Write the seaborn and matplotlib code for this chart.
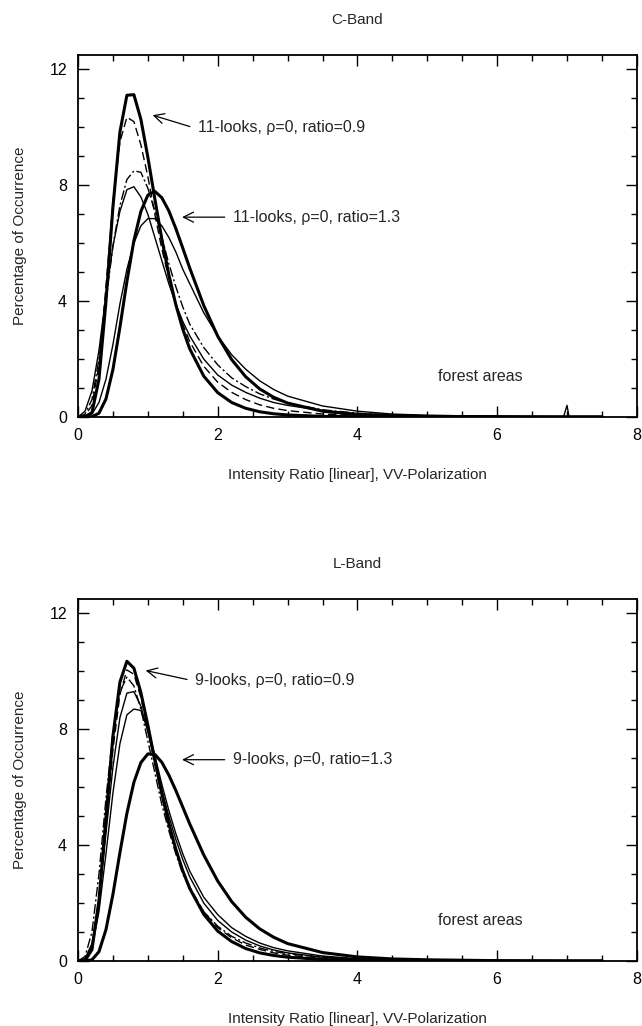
import matplotlib
matplotlib.use("Agg")
import matplotlib.pyplot as plt
from matplotlib.ticker import MultipleLocator
import pandas as pd
import seaborn as sns

# intensity ratio grid shared by all curves
ratio = [0, 0.1, 0.2, 0.3, 0.4, 0.5, 0.6, 0.7, 0.8, 0.9, 1.0, 1.1, 1.2, 1.3, 1.4, 1.5,
         1.6, 1.8, 2.0, 2.2, 2.4, 2.6, 2.8, 3.0, 3.5, 4.0, 4.5, 5.0, 6.0, 6.95, 7.0, 7.03, 7.5]

# C-Band (11 looks)
c_theory_09 = [0, 0.01, 0.15, 1.30, 3.98, 7.25, 9.84, 11.11, 11.13, 10.28, 8.97, 7.53, 6.14, 4.92, 3.88, 3.03,
               2.35, 1.41, 0.84, 0.50, 0.30, 0.18, 0.11, 0.07, 0.02, 0.01, 0, 0, 0, 0, 0, 0, 0]
c_theory_13 = [0, 0, 0.01, 0.13, 0.62, 1.64, 3.10, 4.68, 6.09, 7.10, 7.66, 7.79, 7.57, 7.12, 6.51, 5.83,
               5.14, 3.85, 2.79, 1.98, 1.39, 0.97, 0.68, 0.48, 0.20, 0.08, 0.04, 0.02, 0.01, 0, 0, 0, 0]
c_meas_a = [0, 0.05, 0.4, 1.8, 4.5, 7.4, 9.5, 10.35, 10.2, 9.4, 8.3, 7.0, 5.8, 4.8, 3.9, 3.2,
            2.6, 1.75, 1.2, 0.85, 0.6, 0.42, 0.3, 0.22, 0.1, 0.05, 0.03, 0.02, 0.01, 0, 0, 0, 0]
c_meas_b = [0, 0.1, 0.6, 2.0, 4.0, 5.9, 7.3, 8.2, 8.5, 8.45, 7.9, 7.1, 6.2, 5.3, 4.5, 3.8,
            3.2, 2.4, 1.8, 1.35, 1.05, 0.8, 0.62, 0.48, 0.25, 0.13, 0.07, 0.04, 0.01, 0, 0, 0, 0]
c_meas_c = [0, 0.2, 0.9, 2.3, 4.2, 5.9, 7.1, 7.85, 7.95, 7.6, 7.0, 6.2, 5.4, 4.6, 3.9, 3.3,
            2.8, 2.0, 1.45, 1.1, 0.85, 0.65, 0.5, 0.4, 0.22, 0.12, 0.07, 0.04, 0.01, 0, 0, 0, 0]
c_meas_d = [0, 0, 0.1, 0.5, 1.3, 2.5, 3.9, 5.1, 6.0, 6.6, 6.85, 6.85, 6.6, 6.2, 5.7, 5.1,
            4.6, 3.6, 2.8, 2.15, 1.65, 1.25, 0.95, 0.72, 0.38, 0.2, 0.1, 0.06, 0.02, 0, 0.4, 0, 0]

# L-Band (9 looks)
l_theory_09 = [0, 0.01, 0.39, 2.09, 4.94, 7.76, 9.63, 10.35, 10.11, 9.27, 8.14, 6.93, 5.78, 4.74, 3.86, 3.11,
               2.50, 1.61, 1.03, 0.67, 0.43, 0.28, 0.19, 0.13, 0.05, 0.02, 0.01, 0, 0, 0, 0, 0, 0]
l_theory_13 = [0, 0, 0.04, 0.32, 1.08, 2.30, 3.74, 5.10, 6.17, 6.85, 7.15, 7.13, 6.86, 6.42, 5.89, 5.31,
               4.73, 3.66, 2.76, 2.05, 1.51, 1.11, 0.82, 0.60, 0.29, 0.14, 0.07, 0.04, 0.01, 0, 0, 0, 0]
l_meas_a = [0, 0.05, 0.5, 2.0, 4.6, 7.3, 9.2, 10.05, 9.9, 9.1, 8.0, 6.8, 5.7, 4.7, 3.85, 3.15,
            2.55, 1.7, 1.15, 0.8, 0.55, 0.4, 0.28, 0.2, 0.09, 0.04, 0.02, 0.01, 0, 0, 0, 0, 0]
l_meas_b = [0, 0.15, 1.0, 3.0, 5.6, 7.9, 9.3, 9.8, 9.5, 8.7, 7.6, 6.5, 5.4, 4.5, 3.7, 3.0,
            2.5, 1.7, 1.2, 0.85, 0.62, 0.45, 0.33, 0.25, 0.12, 0.06, 0.03, 0.02, 0.01, 0, 0, 0, 0]
l_meas_c = [0, 0.08, 0.6, 2.1, 4.4, 6.7, 8.4, 9.25, 9.3, 8.8, 7.9, 6.9, 5.9, 5.0, 4.2, 3.5,
            2.9, 2.0, 1.4, 1.0, 0.72, 0.52, 0.38, 0.28, 0.13, 0.06, 0.03, 0.02, 0.01, 0, 0, 0, 0]
l_meas_d = [0, 0.05, 0.45, 1.7, 3.7, 5.8, 7.5, 8.5, 8.7, 8.65, 8.0, 7.1, 6.1, 5.2, 4.4, 3.7,
            3.1, 2.2, 1.6, 1.15, 0.85, 0.62, 0.46, 0.35, 0.17, 0.08, 0.04, 0.02, 0.01, 0, 0, 0, 0]

# line styles: (linewidth, dash pattern or None for solid)
styles = {
    "theory 0.9": (2.2, None),
    "theory 1.3": (2.2, None),
    "meas a": (1.0, (6, 3)),
    "meas b": (1.0, (7, 2, 1.5, 2)),
    "meas c": (1.0, None),
    "meas d": (1.0, None),
}

panels = [
    {
        "title": "C-Band",
        "looks": 11,
        "curves": {"theory 0.9": c_theory_09, "theory 1.3": c_theory_13, "meas a": c_meas_a,
                   "meas b": c_meas_b, "meas c": c_meas_c, "meas d": c_meas_d},
        # (text xy, arrow tip) in data units
        "notes": [((1.72, 10.0), (1.03, 10.45), "0.9"), ((2.22, 6.9), (1.45, 6.9), "1.3")],
    },
    {
        "title": "L-Band",
        "looks": 9,
        "curves": {"theory 0.9": l_theory_09, "theory 1.3": l_theory_13, "meas a": l_meas_a,
                   "meas b": l_meas_b, "meas c": l_meas_c, "meas d": l_meas_d},
        "notes": [((1.68, 9.7), (0.93, 10.05), "0.9"), ((2.22, 6.95), (1.45, 6.95), "1.3")],
    },
]

sns.set_theme(style="ticks")
plt.rcParams["font.family"] = ["Liberation Sans", "DejaVu Sans"]

fig = plt.figure(figsize=(6.42, 10.26), dpi=100)
axes = [fig.add_axes([0.1215, 0.5936, 0.8705, 0.3528]),
        fig.add_axes([0.1215, 0.0634, 0.8705, 0.3528])]

for ax, panel in zip(axes, panels):
    for name, values in panel["curves"].items():
        lw, dash = styles[name]
        df = pd.DataFrame({"ratio": ratio, "pct": values})
        kw = {"dashes": dash} if dash else {}
        sns.lineplot(data=df, x="ratio", y="pct", ax=ax, color="black", lw=lw,
                     sort=False, estimator=None, **kw)

    for (txy, tip, r) in panel["notes"]:
        label = f"{panel['looks']}-looks, ρ=0, ratio={r}"
        ax.annotate("", xy=tip, xytext=(txy[0] - 0.08, txy[1]),
                    arrowprops=dict(arrowstyle="->", color="black", lw=0.9,
                                    mutation_scale=18))
        ax.text(txy[0], txy[1], label, fontsize=11.5, va="center", ha="left")

    ax.text(5.15, 1.4, "forest areas", fontsize=11.5, va="center", ha="left")

    ax.set_xlim(0, 8)
    ax.set_ylim(0, 12.5)
    ax.xaxis.set_major_locator(MultipleLocator(2))
    ax.xaxis.set_minor_locator(MultipleLocator(0.5))
    ax.yaxis.set_major_locator(MultipleLocator(4))
    ax.yaxis.set_minor_locator(MultipleLocator(1))
    ax.tick_params(which="both", direction="in", top=True, right=True, labelsize=11.5,
                   color="black", labelcolor="black", width=1.0)
    ax.tick_params(which="major", length=8, pad=8)
    ax.tick_params(which="minor", length=4)
    for s in ax.spines.values():
        s.set_visible(True)
        s.set_color("black")
        s.set_linewidth(1.3)
    ax.set_title(panel["title"], fontsize=11, pad=22)
    ax.set_xlabel("Intensity Ratio [linear], VV-Polarization", fontsize=11, labelpad=18)
    ax.set_ylabel("Percentage of Occurrence", fontsize=11, labelpad=16)

fig.savefig("out.png", dpi=100, facecolor="white")
